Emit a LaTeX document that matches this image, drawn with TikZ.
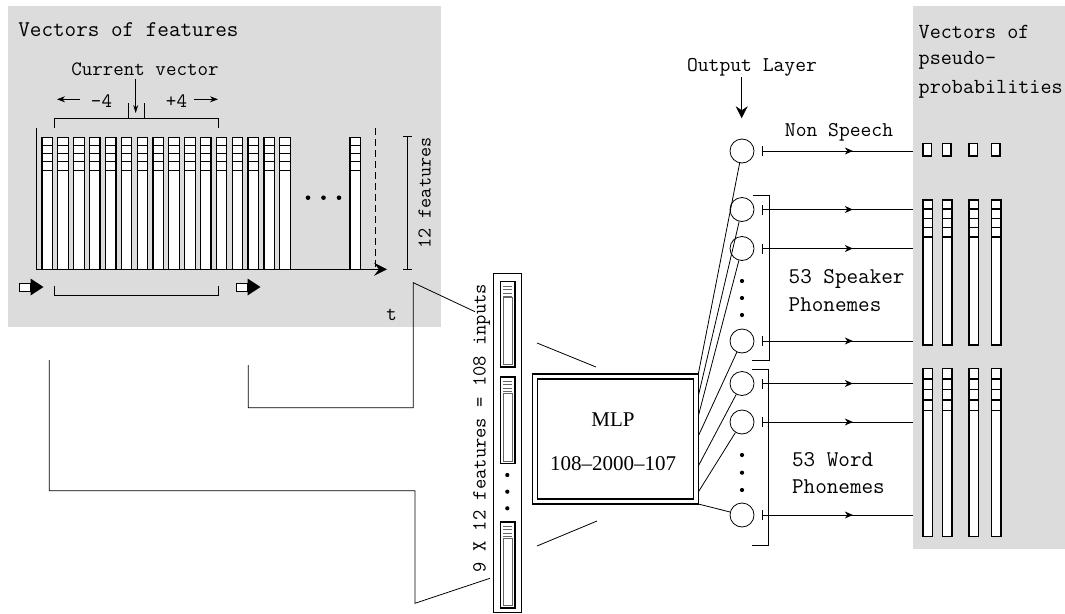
\documentclass[tikz,border=0pt]{standalone}
\usepackage{fontspec}
\setmainfont{Liberation Serif}
\usetikzlibrary{arrows.meta,decorations.markings}
\definecolor{panelgray}{RGB}{220,220,220}
\tikzset{
  lbl/.style={inner sep=0pt, font={\ttfamily\fontsize{#1}{#1}\selectfont}},
  colbox/.style={draw, fill=white, line width=1.2pt},
  colline/.style={line width=1.1pt},
  obox/.style={draw, fill=white, line width=1.5pt},
  outc/.style={circle, draw, fill=white, minimum size=24pt, inner sep=0pt, line width=0.8pt},
  outarrow/.style={line width=0.8pt, arrows={Bar[width=10pt]-},
    postaction={decorate},
    decoration={markings, mark=at position 0.6 with {\arrow{Stealth[length=8pt,width=7pt]}}}},
  dotc/.style={circle, fill=black, inner sep=0pt, minimum size=4.2pt},
}
\begin{document}
\begin{tikzpicture}[x=1pt,y=-1pt, line width=0.8pt]
\useasboundingbox (0,0) rectangle (1065,613);
% ---------- left panel ----------
\fill[panelgray] (8,6) rectangle (441,327);
\node[lbl=22.5, anchor=base west] (tvf) at (18,36.7) {Vectors of features};
\node[lbl=20.4, anchor=base] (tcur) at (145,75) {Current vector};
\coordinate (curtip) at (135.7,113);
\draw[-{Stealth[length=8pt,width=5pt]}] (135.7,79) -- (curtip);
\draw (128.7,103) -- (128.7,118.3);
\draw (144,103) -- (144,118.3);
\draw (54.3,127.7) -- (54.3,118.3) -- (218.3,118.3) -- (218.3,127.7);
\node[lbl=20.4, anchor=base] (tm4) at (101.5,107) {–4};
\node[lbl=20.4, anchor=base] (tp4) at (176.5,107) {+4};
\draw[-{Stealth[length=8pt,width=6pt]}] (80,99.3) -- (57,99.3);
\draw[-{Stealth[length=8pt,width=6pt]}] (194,99.3) -- (218,99.3);
% columns
\foreach \i in {0,...,15} {
  \pgfmathsetmacro\xx{42+15.85*\i}
  \draw[colbox] (\xx,137.3) rectangle ++(10.5,132);
  \foreach \k in {1,2,3,4} \draw[colline] (\xx,137.3+8.2*\k) -- ++(10.5,0);
}
\draw[colbox] (350,137.3) rectangle ++(10.5,132);
\foreach \k in {1,2,3,4} \draw[colline] (350,137.3+8.2*\k) -- ++(10.5,0);
% axis
\draw[-{Stealth[length=13pt,width=13pt,inset=5pt]}] (36.7,128) -- (36.7,269.3) -- (387,269.3);
\foreach \x in {308,323.5,339} \node[dotc, minimum size=4.6pt] at (\x,197.7) {};
\draw[dash pattern=on 7pt off 4pt] (375.7,128) -- (375.7,267);
\draw (407.3,136.3) -- (407.3,269.3);
\draw (403,136.3) -- (412,136.3);
\draw (403,269.3) -- (412,269.3);
\node[lbl=19.6, rotate=90, anchor=center] (t12f) at (424.5,193) {12 features};
% block arrows
\foreach \x in {19,236} {
  \draw[fill=white] (\x,283) rectangle (\x+11.5,291.5);
  \fill (\x+11.5,278.5) -- (\x+24.5,287) -- (\x+11.5,295.5) -- cycle;
}
\draw (54.3,286) -- (54.3,295) -- (218.3,295) -- (218.3,286);
\node[lbl=20.4, anchor=base] (tt) at (391.7,320) {t};
% ---------- connection polylines ----------
\draw (248.3,365) -- (248.3,407.7) -- (413.3,407.7) -- (413.3,282.7) -- (475,311.7);
\draw (49.3,360) -- (49.3,490.7) -- (415,490.7) -- (415,603.3) -- (490,578.3);
% ---------- input stack ----------
\draw (493,273) rectangle (521,612);
\foreach \t/\b in {281.3/367, 376.7/463.3, 521.7/608} {
  \draw[fill=white, line width=1.6pt] (500.3,\t) rectangle (514.7,\b);
  \draw[line width=0.4pt, black!60] (503,\t+16) rectangle (512,\b-2.5);
  \foreach \d in {4.5,8,11.5,15} \draw[line width=0.5pt, black!60] (503,\t+\d) -- (512,\t+\d);
}
\foreach \y in {475,491.7,508.3} \node[dotc] at (507.3,\y) {};
\node[lbl=20, rotate=90, anchor=center] (tinp) at (481.7,428) {9 X 12 features = 108 inputs};
\draw (537,343) -- (596,367);
\draw (537,546) -- (597,521);
% ---------- MLP ----------
\draw[line width=1.3pt] (532.3,374) rectangle (698.3,504);
\draw[line width=1.1pt] (537.3,379) rectangle (693.3,499);
\node[inner sep=0pt, font=\fontsize{21}{24}\selectfont, anchor=base] (tmlp) at (613,426.7) {MLP};
\node[inner sep=0pt, font=\fontsize{21}{24}\selectfont, anchor=base] (tmlpn) at (613,470) {108–2000–107};
% ---------- output layer ----------
\node[lbl=21, anchor=base] (tout) at (752,71) {Output Layer};
\draw[-{Stealth[length=12pt,width=12pt,inset=4pt]}] (741.7,77) -- (741.7,118.3);
\node[lbl=21, anchor=base] (tns) at (839,136) {Non Speech};
\node[outc] (c1) at (742,151) {};
\node[outc] (c2) at (742,209.5) {};
\node[outc] (c3) at (742,248.5) {};
\node[outc] (c4) at (742,341) {};
\node[outc] (c5) at (742,383.5) {};
\node[outc] (c6) at (742,422) {};
\node[outc] (c7) at (742,515) {};
\foreach \n/\y in {1/374,2/396,3/416,4/436,5/466,6/492,7/504} \coordinate (m\n) at (698.3,\y);
\foreach \n in {1,...,7} \draw (c\n) -- (m\n);
\foreach \n in {1,...,7} {
  \coordinate (o\n) at (913.3,0 |- c\n);
  \draw[outarrow] ([xshift=7.7pt]c\n.east) -- (o\n -| 913.3,0);
}
\foreach \y in {281,298,315,455,472.7,490} \node[dotc] at (742,\y) {};
\draw (753.3,195) -- (769,195) -- (769,360) -- (751.7,360);
\draw (752.3,369.3) -- (768.3,369.3) -- (768.3,545) -- (752.3,545);
\node[lbl=22.5, anchor=base west] (tsp1) at (788.3,283.3) {53 Speaker};
\node[lbl=22.5, anchor=base west] (tsp2) at (788.3,311.7) {Phonemes};
\node[lbl=22.5, anchor=base west] (twd1) at (791.7,466.7) {53 Word};
\node[lbl=22.5, anchor=base west] (twd2) at (791.7,493.3) {Phonemes};
% ---------- right panel ----------
\fill[panelgray] (913.3,6) rectangle (1065,549.3);
\node[lbl=21.5, anchor=base west] (tr1) at (918.3,38.3) {Vectors of};
\node[lbl=21.5, anchor=base west] (tr2) at (918.3,64) {pseudo-};
\node[lbl=21.5, anchor=base west] (tr3) at (918.3,93) {probabilities};
\foreach \x in {923,942.5,969,991.5} {
  \draw[obox] (\x,143.5) rectangle ++(8.5,12.5);
  \draw[obox] (\x,200) rectangle ++(9.5,145);
  \foreach \k in {1,...,4} \draw[line width=1.5pt] (\x,200+9.2*\k) -- ++(9.5,0);
  \draw[obox] (\x,368.3) rectangle ++(9.5,168.4);
  \foreach \k in {1,...,4} \draw[line width=1.5pt] (\x,368.3+10.6*\k) -- ++(9.5,0);
}
\end{tikzpicture}
\end{document}
